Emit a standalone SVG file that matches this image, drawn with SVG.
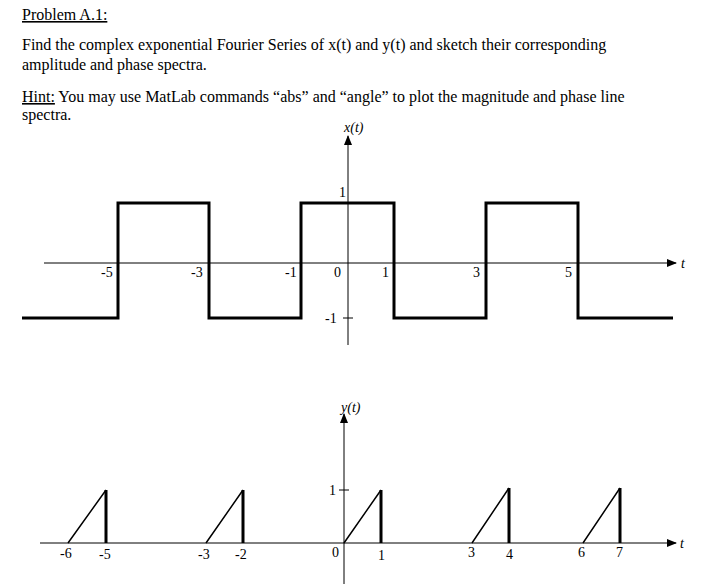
<svg xmlns="http://www.w3.org/2000/svg" width="716" height="584" viewBox="0 0 716 584">
<style>
text{font-family:"Liberation Serif","Times New Roman",serif;font-size:16px;fill:#000}
text.s{font-family:"Liberation Serif","Times New Roman",serif;font-size:14px}
.ax{stroke:#000;stroke-width:1;fill:none}
.sig{stroke:#000;stroke-width:3;fill:none}
.thin{stroke:#000;stroke-width:1.5;fill:none}
</style>
<defs><marker id="ar" markerWidth="10" markerHeight="8" refX="9" refY="4" orient="auto" markerUnits="userSpaceOnUse"><path d="M0,0 L10,4 L0,8 Z" fill="#000"/></marker></defs>
<rect width="716" height="584" fill="#fff"/>
<g id="text">
<text x="22" y="20" text-decoration="underline">Problem A.1:</text>
<text x="22" y="50">Find the complex exponential Fourier Series of x(t) and y(t) and sketch their corresponding</text>
<text x="22" y="70">amplitude and phase spectra.</text>
<text x="22" y="102"><tspan text-decoration="underline">Hint:</tspan> You may use MatLab commands “abs” and “angle” to plot the magnitude and phase line</text>
<text x="22" y="120">spectra.</text>
</g>
<g id="connectors">
<line class="ax" x1="44" y1="263" x2="676" y2="263" marker-end="url(#ar)"/>
<line class="ax" x1="348" y1="345" x2="348" y2="136" marker-end="url(#ar)"/>
<line class="ax" x1="343" y1="318" x2="353" y2="318"/>
<line class="ax" x1="40" y1="543" x2="676" y2="543" marker-end="url(#ar)"/>
<line class="ax" x1="344" y1="584" x2="344" y2="414" marker-end="url(#ar)"/>
<line class="ax" x1="339" y1="490" x2="349" y2="490"/>
</g>
<g id="xsignal">
<path class="sig" d="M22,318 H118 V203 H209 V318 H301 V203 H394 V318 H486 V203 H578 V318 H673"/>
</g>
<g id="xlabels">
<text class="s" x="344" y="132" font-style="italic">x(t)</text>
<text class="s" x="681" y="268" font-style="italic">t</text>
<text class="s" x="339" y="197">1</text>
<text class="s" x="101" y="277">-5</text>
<text class="s" x="191" y="277">-3</text>
<text class="s" x="285" y="277">-1</text>
<text class="s" x="334" y="277">0</text>
<text class="s" x="382" y="277">1</text>
<text class="s" x="473" y="277">3</text>
<text class="s" x="565" y="277">5</text>
<text class="s" x="325" y="323">-1</text>
</g>
<g id="ysignal">
<path class="thin" d="M68,543 L106,490 M206,543 L243,490 M344,543 L381,490 M472,543 L509,488 M583,543 L620,488"/>
<path class="sig" d="M106,490 V543 M243,490 V543 M381,490 V543 M509,488 V543 M620,488 V543"/>
</g>
<g id="ylabels">
<text class="s" x="341" y="412" font-style="italic">y(t)</text>
<text class="s" x="680" y="548" font-style="italic">t</text>
<text class="s" x="329" y="495">1</text>
<text class="s" x="60" y="558">-6</text>
<text class="s" x="99" y="559">-5</text>
<text class="s" x="198" y="559">-3</text>
<text class="s" x="235" y="559">-2</text>
<text class="s" x="332" y="557">0</text>
<text class="s" x="378" y="560">1</text>
<text class="s" x="468" y="557">3</text>
<text class="s" x="506" y="559">4</text>
<text class="s" x="578" y="557">6</text>
<text class="s" x="616" y="557">7</text>
</g>
</svg>
